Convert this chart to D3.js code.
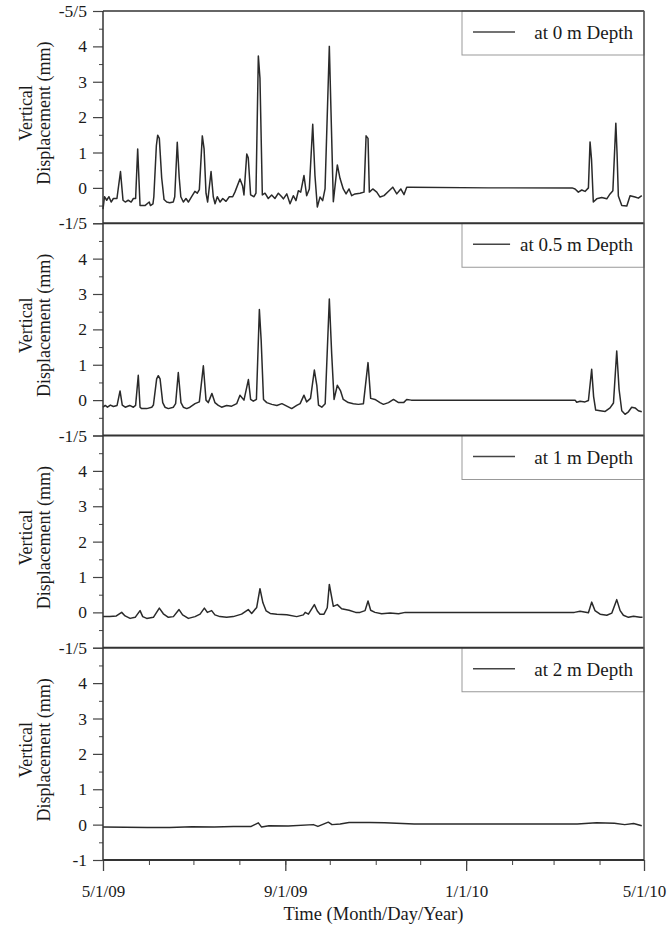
<!DOCTYPE html>
<html>
<head>
<meta charset="utf-8">
<script src="https://cdn.jsdelivr.net/npm/d3@7"></script>
<style>
  html, body { margin: 0; padding: 0; background: #fff; }
  svg text { font-family: "Liberation Serif", "Times New Roman", Times, "DejaVu Serif", serif !important; fill: #1a1a1a; }
</style>
</head>
<body>
<svg id="chart" width="670" height="925"></svg>
<script>
// ---- data: [days since 5/1/09, vertical displacement (mm)] ----
const depth0 = [[0,-0.6],[1,-0.25],[2.5,-0.35],[4,-0.25],[5.5,-0.4],[7,-0.3],[9.4,-0.3],[11.8,0.46],[13.5,-0.35],[15,-0.4],[17,-0.35],[19,-0.4],[20.5,-0.3],[22,-0.3],[23.4,1.1],[25,-0.5],[28.3,-0.5],[31.2,-0.4],[32,-0.5],[33.7,-0.45],[34.3,-0.25],[36,1.19],[36.9,1.49],[38,1.4],[39.6,0.28],[41.2,-0.33],[43,-0.4],[45,-0.42],[47.4,-0.4],[48.4,-0.25],[50.1,1.29],[51.4,0.3],[52.5,-0.25],[54.2,-0.4],[56,-0.3],[57.6,-0.4],[59.8,-0.25],[62,-0.1],[63.6,-0.15],[65,-0.05],[67,1.47],[68.2,1.1],[69.5,-0.15],[70.6,-0.4],[72.9,0.46],[74.4,-0.25],[75.6,-0.45],[77.1,-0.25],[79,-0.4],[80.8,-0.3],[83,-0.38],[85.2,-0.25],[87.5,-0.25],[89,-0.12],[92.4,0.25],[94.2,0.05],[95.1,-0.2],[97,0.96],[98,0.85],[99.6,-0.2],[101.9,-0.25],[103.2,-0.15],[104.8,3.73],[105.9,3.1],[107.5,-0.2],[109.3,-0.15],[111.5,-0.3],[113.8,-0.2],[116,-0.3],[118.3,-0.15],[120.6,-0.25],[121.7,-0.31],[124,-0.17],[126.2,-0.45],[128.4,-0.22],[130.2,-0.36],[131.8,-0.08],[133.4,-0.12],[135.6,0.35],[137.4,-0.22],[139.2,-0.03],[141.5,1.8],[143,0.35],[144.6,-0.54],[146.4,-0.26],[148.2,-0.36],[149.8,-0.03],[152.7,4.0],[153.8,2.2],[155.4,-0.39],[158.1,0.65],[159.9,0.27],[162.1,-0.03],[164,-0.17],[166,-0.03],[167.8,-0.22],[170,-0.17],[173.4,-0.15],[176.1,-0.12],[177.5,1.47],[178.8,1.4],[179.7,-0.12],[182,-0.03],[184.7,-0.12],[186.9,-0.26],[189.6,-0.22],[192.5,-0.1],[195.5,0.02],[198.2,-0.17],[200.9,-0.03],[203.1,-0.19],[204.9,0.02],[207.2,0.02],[260,0.0],[316.5,0.0],[318.5,-0.03],[320.7,-0.12],[323,-0.06],[325.2,-0.1],[327.5,0.0],[328.6,1.3],[329.6,0.8],[330.8,-0.4],[333.1,-0.31],[336.5,-0.27],[339.9,-0.31],[342.1,-0.17],[344,-0.08],[346,1.83],[346.8,1.0],[347.7,-0.23],[350,-0.5],[353.4,-0.51],[355.6,-0.22],[359,-0.26],[361.2,-0.29],[363.5,-0.22]];

const depth05 = [[0,-0.2],[1.5,-0.15],[3,-0.2],[5,-0.14],[7,-0.18],[9.5,-0.15],[11.5,0.26],[13,-0.14],[15,-0.2],[18,-0.15],[20.5,-0.2],[22,-0.15],[23.8,0.7],[25,-0.2],[26.1,-0.24],[29.5,-0.24],[32.9,-0.2],[34,-0.14],[36.2,0.6],[37.3,0.69],[38.5,0.6],[40.3,-0.07],[41.8,-0.2],[44.1,-0.24],[47.5,-0.2],[49,-0.1],[50.8,0.78],[52.6,-0.07],[54.2,-0.2],[56.5,-0.24],[58.7,-0.2],[62.1,-0.1],[65,-0.05],[67.7,0.97],[69.5,0.0],[71,-0.07],[73.5,0.19],[75.5,-0.07],[77.8,-0.15],[80,-0.2],[83.4,-0.15],[86.8,-0.17],[90.2,-0.1],[92.4,0.14],[95.1,0.0],[98.1,0.58],[99.6,0.02],[101.4,-0.03],[103.5,0.02],[105.5,2.56],[106.7,1.7],[108.3,0.02],[110.5,-0.07],[113.9,-0.12],[117.3,-0.15],[120.7,-0.1],[124,-0.17],[127.3,-0.24],[130.7,-0.15],[133,-0.1],[135.6,0.14],[137.4,-0.05],[140,0.05],[142.6,0.85],[144.3,0.4],[145.4,-0.14],[147.6,-0.2],[149.9,-0.1],[152.7,2.86],[154.3,1.3],[155.9,0.02],[158.1,0.42],[160.3,0.26],[162.1,0.02],[165.5,-0.07],[168.9,-0.1],[172.3,-0.12],[175.7,-0.1],[178.8,1.06],[180.6,0.05],[183.5,0.02],[186.9,-0.07],[189.2,-0.12],[192.6,-0.07],[196,0.02],[199.4,-0.07],[202.8,-0.07],[204.9,0.02],[208,0.0],[318.5,0.0],[319.6,-0.06],[321.9,-0.03],[325.2,-0.05],[327.5,-0.01],[329.7,0.87],[331,0.1],[332.4,-0.28],[335.4,-0.3],[338.8,-0.32],[342.1,-0.22],[344.4,-0.08],[346.6,1.39],[348.2,0.3],[350,-0.3],[352.2,-0.4],[354.5,-0.33],[356.7,-0.2],[359,-0.22],[361.2,-0.3],[363.5,-0.33]];

const depth1 = [[0,-0.12],[4.5,-0.12],[9,-0.1],[12.6,0.0],[14.9,-0.1],[18.3,-0.17],[21.7,-0.14],[25,0.05],[26.8,-0.12],[29.5,-0.17],[34,-0.14],[38,0.12],[40.7,-0.04],[44.1,-0.14],[47.5,-0.12],[51.3,0.08],[53.7,-0.07],[57.6,-0.17],[62.1,-0.12],[65.5,-0.05],[68.4,0.12],[70.4,0.0],[73.3,0.05],[75.5,-0.07],[78.9,-0.12],[83.4,-0.14],[87.9,-0.12],[93.5,-0.05],[98,0.08],[100.3,-0.03],[103.7,0.14],[105.9,0.67],[107.9,0.27],[110.1,0.04],[112.8,-0.03],[117.3,-0.05],[124,-0.07],[130.7,-0.12],[135.2,-0.07],[136.4,0.0],[138.6,-0.05],[142.6,0.22],[144.6,0.04],[146.4,-0.05],[149.1,-0.05],[151.3,0.13],[152.7,0.79],[155.4,0.17],[158.1,0.22],[161,0.1],[166,0.06],[170.5,0.0],[173.4,0.0],[176.8,0.05],[178.8,0.32],[180.6,0.06],[183.5,0.0],[188,-0.04],[193.7,-0.02],[199.4,-0.04],[203.9,0.0],[208.3,0.0],[318,0.0],[321.9,0.03],[327.5,-0.01],[329.7,0.29],[331.9,0.05],[335.4,-0.05],[339.9,-0.08],[343.3,-0.02],[346.6,0.36],[348.9,0.05],[351.1,-0.08],[354.5,-0.14],[357.9,-0.11],[362.4,-0.14],[364,-0.14]];

const depth2 = [[0,-0.07],[30,-0.08],[45,-0.08],[60,-0.06],[75,-0.07],[88,-0.05],[100,-0.05],[104.8,0.05],[107,-0.07],[112,-0.03],[125,-0.04],[141.9,0.0],[145,-0.05],[152,0.07],[154.5,0.0],[160,0.02],[166,0.06],[180,0.06],[190,0.05],[210,0.02],[320,0.02],[333,0.05],[345,0.04],[352,0.0],[358,0.03],[363.5,-0.03]];

const seriesList = [depth0, depth05, depth1, depth2];
const legendLabels = ["at 0 m Depth", "at 0.5 m Depth", "at 1 m Depth", "at 2 m Depth"];
const yMajorTicks = [-1, 0, 1, 2, 3, 4, 5];
const yMinorTicks = [-0.5, 0.5, 1.5, 2.5, 3.5, 4.5];
const topTickLabels = ["-5/5", "-1/5", "-1/5", "-1/5"];
const bottomTickLabel = "-1";
const yTitleLines = ["Vertical", "Displacement (mm)"];
const xTitle = "Time (Month/Day/Year)";
const startDate = new Date(Date.UTC(2009, 4, 1));
const endDate = new Date(Date.UTC(2010, 4, 1));

// ---- layout ----
const FONT = "'Liberation Serif', 'Times New Roman', Times, 'DejaVu Serif', serif";
const mLeft = 103, mRight = 644, mTop = 11, mBottom = 860;
const nP = seriesList.length;
const ph = (mBottom - mTop) / nP;
const svg = d3.select("#chart");

const x = d3.scaleUtc().domain([startDate, endDate]).range([mLeft, mRight]);
const toDate = d => new Date(startDate.getTime() + d * 864e5);

seriesList.forEach((data, i) => {
  const pTop = mTop + i * ph, pBot = pTop + ph;
  const y = d3.scaleLinear().domain([-1, 5]).range([pBot, pTop]);
  const g = svg.append("g");

  // minor y ticks
  g.append("g").attr("transform", `translate(${mLeft},0)`)
    .call(d3.axisLeft(y).tickValues(yMinorTicks).tickSize(4).tickFormat(""))
    .call(a => a.select(".domain").remove())
    .call(a => a.selectAll("line").attr("stroke", "#444"));

  // major y ticks
  const isLast = i === nP - 1;
  g.append("g").attr("transform", `translate(${mLeft},0)`)
    .attr("font-family", FONT)
    .call(d3.axisLeft(y).tickValues(yMajorTicks).tickSize(10).tickPadding(6)
      .tickFormat(v => v === 5 ? topTickLabels[i] : (v === -1 ? (isLast ? bottomTickLabel : "") : String(v))))
    .call(a => a.select(".domain").remove())
    .call(a => a.selectAll("line").attr("stroke", "#444").attr("stroke-width", 1.2))
    .call(a => a.selectAll("text").attr("font-size", 17.5).attr("font-family", FONT));

  // line
  const line = d3.line().x(d => x(toDate(d[0]))).y(d => y(d[1]));
  g.append("path").datum(data).attr("d", line)
    .attr("fill", "none").attr("stroke", "#2a2a2a").attr("stroke-width", 1.5).attr("stroke-linejoin", "round");

  // legend
  const lg = g.append("g");
  lg.append("rect").attr("x", 462).attr("y", pTop).attr("width", mRight - 462).attr("height", 44)
    .attr("fill", "#fff").attr("stroke", "#999").attr("stroke-width", 1);
  const lt = lg.append("text").attr("x", 633).attr("y", pTop + 28).attr("text-anchor", "end")
    .attr("font-family", FONT).attr("font-size", 19).text(legendLabels[i]);
  const textStart = 633 - lt.node().getComputedTextLength();
  lg.append("line").attr("x1", 473).attr("x2", Math.min(515, textStart - 10)).attr("y1", pTop + 21).attr("y2", pTop + 21)
    .attr("stroke", "#444").attr("stroke-width", 1.5);

  // y title
  const cy = pTop + ph / 2 - 4;
  g.append("text").attr("transform", `translate(32,${cy}) rotate(-90)`).attr("text-anchor", "middle")
    .attr("font-family", FONT).attr("font-size", 18).text(yTitleLines[0]);
  g.append("text").attr("transform", `translate(50,${cy}) rotate(-90)`).attr("text-anchor", "middle")
    .attr("font-family", FONT).attr("font-size", 18).text(yTitleLines[1]);

  // panel top boundary line
  svg.append("line").attr("x1", mLeft).attr("x2", mRight).attr("y1", pTop).attr("y2", pTop)
    .attr("stroke", "#333").attr("stroke-width", i === 0 ? 1.5 : 2);
});

// frame verticals
svg.append("line").attr("x1", mLeft).attr("x2", mLeft).attr("y1", mTop).attr("y2", mBottom)
  .attr("stroke", "#333").attr("stroke-width", 1.5);
svg.append("line").attr("x1", mRight).attr("x2", mRight).attr("y1", mTop).attr("y2", mBottom)
  .attr("stroke", "#555").attr("stroke-width", 1.5);

// x axis minor (monthly) and major (every 4 months)
svg.append("g").attr("transform", `translate(0,${mBottom})`)
  .call(d3.axisBottom(x).ticks(d3.utcMonth.every(1)).tickSize(5).tickFormat(""))
  .call(a => a.select(".domain").remove())
  .call(a => a.selectAll("line").attr("stroke", "#444"));
svg.append("g").attr("transform", `translate(0,${mBottom})`)
  .call(d3.axisBottom(x).ticks(d3.utcMonth.every(4)).tickSize(11).tickPadding(14).tickFormat(d3.utcFormat("%-m/%-d/%y")))
  .call(a => a.select(".domain").remove())
  .call(a => a.selectAll("line").attr("stroke", "#444").attr("stroke-width", 1.3))
  .call(a => a.selectAll("text").attr("font-size", 17).attr("font-family", FONT));
svg.append("line").attr("x1", mLeft).attr("x2", mRight).attr("y1", mBottom).attr("y2", mBottom)
  .attr("stroke", "#333").attr("stroke-width", 2);

svg.append("text").attr("x", (mLeft + mRight) / 2).attr("y", 920).attr("text-anchor", "middle")
  .attr("font-family", FONT).attr("font-size", 18.5).text(xTitle);
</script>
</body>
</html>
